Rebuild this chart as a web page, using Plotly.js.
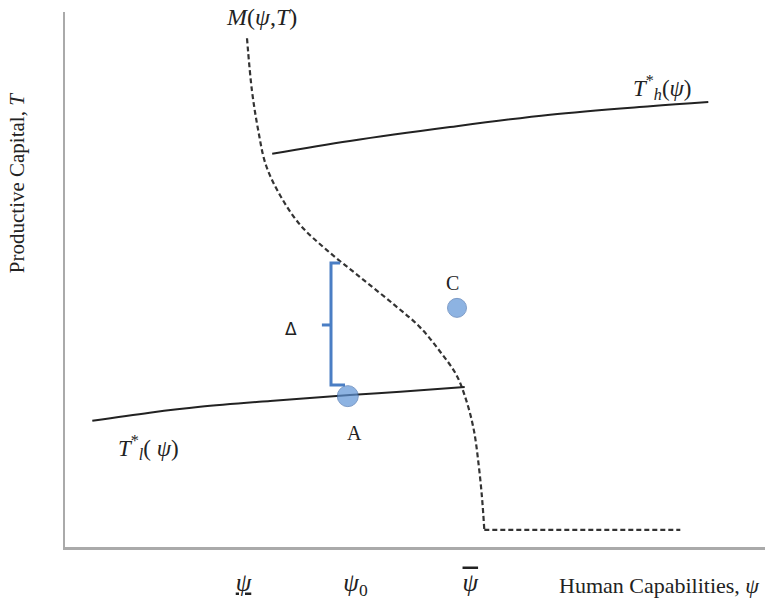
<!DOCTYPE html>
<html>
<head>
<meta charset="utf-8">
<script src="https://cdn.plot.ly/plotly-3.0.1.min.js"></script>
<style>html,body{margin:0;padding:0;background:#fff;}#chart{width:769px;height:601px;}</style>
</head>
<body>
<div id="chart"></div>
<script>
// M(psi,T) threshold curve (dashed): descending branch, then flat branch
var mPsi = [2.60, 2.67, 2.76, 2.87, 3.07, 3.36, 3.74, 4.21, 4.71, 5.07, 5.36, 5.59, 5.73, 5.84, 5.91, 5.96, 5.99];
var mT   = [9.51, 8.54, 7.79, 7.14, 6.58, 6.02, 5.55, 5.05, 4.52, 4.11, 3.65, 3.22, 2.75, 2.19, 1.53, 0.88, 0.32];
var mFlatPsi = [5.99, 8.79];
var mFlatT   = [0.32, 0.32];
// High steady state T_h*(psi)
var hPsi = [2.96, 4.07, 5.50, 6.93, 8.36, 9.19];
var hT   = [7.35, 7.59, 7.85, 8.08, 8.24, 8.32];
// Low steady state T_l*(psi)
var lPsi = [0.39, 1.21, 1.93, 2.93, 4.07, 4.79, 5.71];
var lT   = [2.36, 2.51, 2.62, 2.73, 2.84, 2.90, 2.99];
// Points A and C
var ptNames = ["A", "C"];
var ptPsi = [4.04, 5.60];
var ptT   = [2.82, 4.47];
// Delta bracket
var brPsi = [3.93, 3.80, 3.80, 4.00, null, 3.67, 3.80];
var brT   = [5.31, 5.31, 3.03, 3.03, null, 4.15, 4.15];
// Tick labels
var tickVals = [2.55, 4.15, 5.79];
var tickText = ["<u><i>ψ</i></u>", "<i>ψ</i><sub>0</sub>", "<span style=\"text-decoration:overline\"><i>ψ</i></span>"];

var serif = "Liberation Serif, DejaVu Serif, serif";
var dashLine = {color: "#333", width: 2.2, dash: "5px,3px"};
var traces = [
  {x: mPsi, y: mT, mode: "lines", line: Object.assign({shape: "spline", smoothing: 1}, dashLine), hoverinfo: "skip"},
  {x: mFlatPsi, y: mFlatT, mode: "lines", line: dashLine, hoverinfo: "skip"},
  {x: hPsi, y: hT, mode: "lines", line: {color: "#222", width: 2, shape: "spline"}, hoverinfo: "skip"},
  {x: lPsi, y: lT, mode: "lines", line: {color: "#222", width: 2, shape: "spline"}, hoverinfo: "skip"},
  {x: brPsi, y: brT, mode: "lines", line: {color: "#4a7ec4", width: 3}, hoverinfo: "skip"},
  {x: ptPsi, y: ptT, mode: "markers", marker: {size: [21, 19], color: "#5e93d6", line: {color: "#4672b0", width: 1}}, text: ptNames, hoverinfo: "skip"}
];

var layout = {
  width: 769, height: 601,
  margin: {l: 65, r: 4, t: 12, b: 54},
  paper_bgcolor: "#fff", plot_bgcolor: "#fff",
  showlegend: false,
  xaxis: {range: [0, 10], showgrid: false, zeroline: false, showline: true, linecolor: "#aaa", linewidth: 2.5,
          tickmode: "array", tickvals: tickVals, ticktext: tickText, ticks: "", ticklabelstandoff: 11,
          tickfont: {family: serif, size: 25, color: "#222"}},
  yaxis: {range: [0, 10], showgrid: false, zeroline: false, showline: true, linecolor: "#aaa", linewidth: 2.5,
          showticklabels: false, ticks: ""},
  annotations: [
    {x: 2.80, y: 9.91, xref: "x", yref: "y", text: "<i>M</i>(<i>ψ</i>,<i>T</i>)", showarrow: false, font: {family: serif, size: 24, color: "#222"}},
    {x: 8.53, y: 8.58, xref: "x", yref: "y", text: "<i>T</i><sup>*</sup><sub><i>h</i></sub>(<i>ψ</i>)", showarrow: false, font: {family: serif, size: 23, color: "#222"}},
    {x: 1.19, y: 1.86, xref: "x", yref: "y", text: "<i>T</i><sup>*</sup><sub><i>l</i></sub>( <i>ψ</i>)", showarrow: false, font: {family: serif, size: 23, color: "#222"}},
    {x: 3.23, y: 4.08, xref: "x", yref: "y", text: "Δ", showarrow: false, font: {family: "DejaVu Sans, sans-serif", size: 17, color: "#222"}},
    {x: 5.54, y: 4.94, xref: "x", yref: "y", text: "C", showarrow: false, font: {family: serif, size: 20, color: "#222"}},
    {x: 4.14, y: 2.13, xref: "x", yref: "y", text: "A", showarrow: false, font: {family: serif, size: 20, color: "#222"}},
    {x: 1, y: 0, xref: "paper", yref: "paper", xanchor: "right", yanchor: "middle", xshift: -4, yshift: -38,
     text: "Human Capabilities, <i>ψ</i>", showarrow: false, font: {family: serif, size: 22, color: "#222"}},
    {x: 0, y: 0.68, xref: "paper", yref: "paper", xanchor: "center", yanchor: "middle", xshift: -48, textangle: -90,
     text: "Productive Capital, <i>T</i>", showarrow: false, font: {family: serif, size: 21, color: "#222"}}
  ]
};
Plotly.newPlot("chart", traces, layout, {displayModeBar: false, staticPlot: true});
</script>
</body>
</html>
